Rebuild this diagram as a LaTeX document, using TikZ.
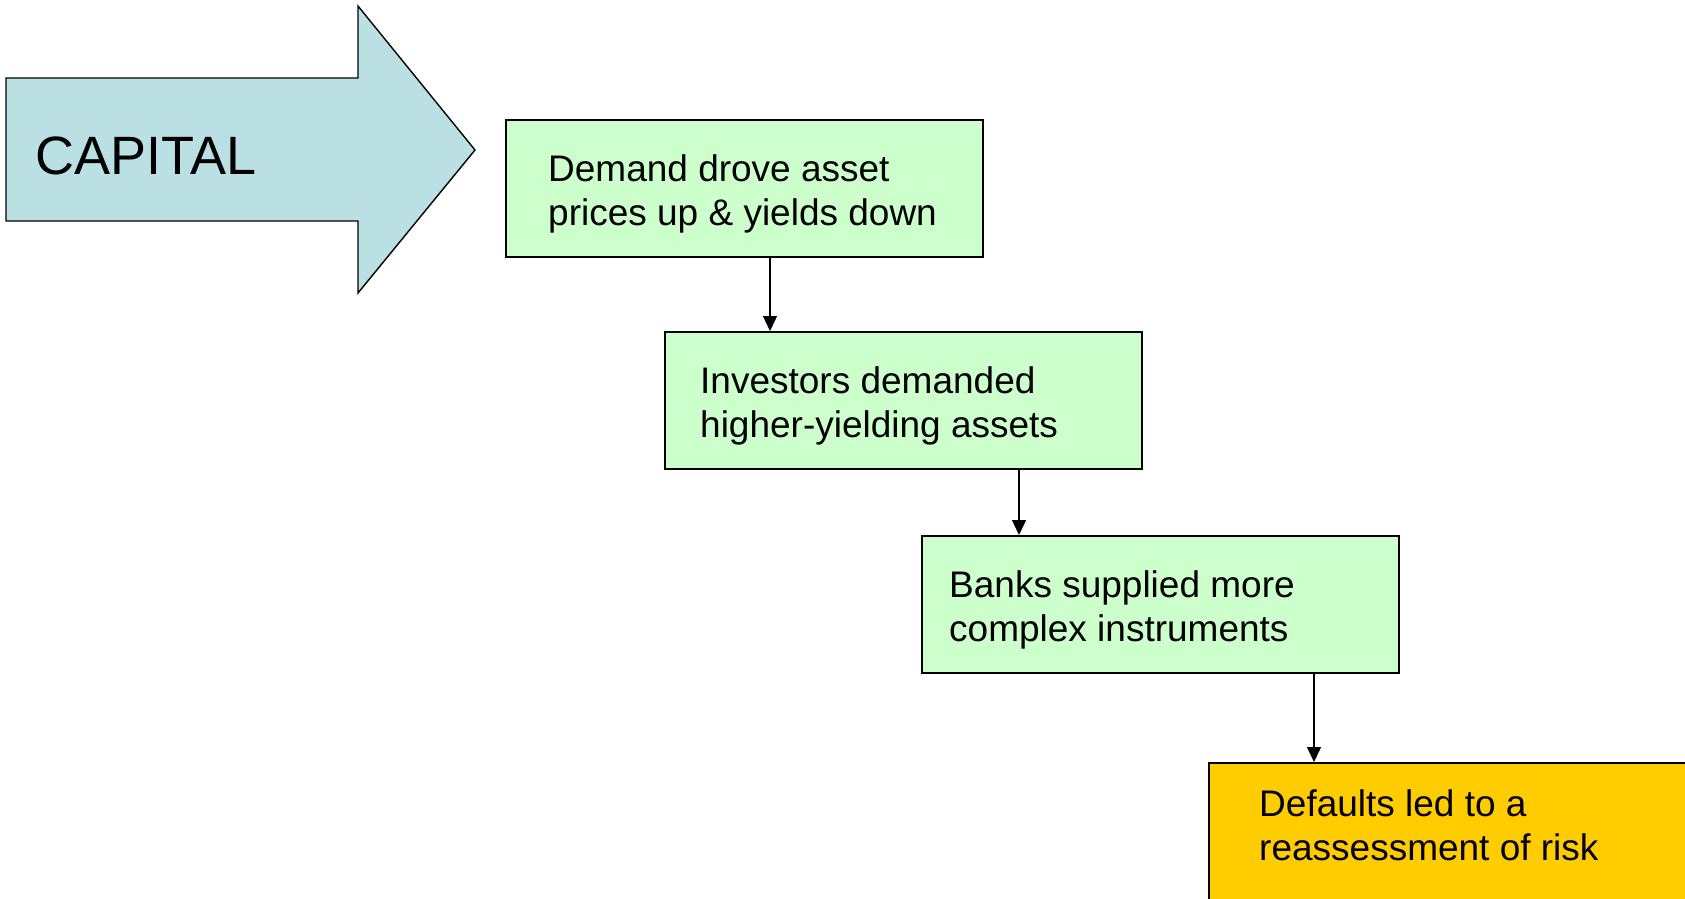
\documentclass[tikz,border=0pt]{standalone}
\usepackage{fontspec}
\setmainfont{Liberation Sans}
\usetikzlibrary{arrows.meta}

\definecolor{capitalblue}{HTML}{BBE0E3}
\definecolor{stagegreen}{HTML}{CCFFCC}
\definecolor{stagegold}{HTML}{FFCC00}

\tikzset{
  stagebox/.style={draw, line width=1.5pt, minimum width=477pt, minimum height=137pt, inner sep=0pt},
  stagetext/.style={align=left, inner sep=0pt, font=\fontsize{37pt}{44pt}\selectfont},
  flow/.style={-{Triangle[length=15pt,width=14pt]}, line width=1.4pt},
}

% box #1 with its top left corner at #2, text inset by #3 and raised by #4, fill #5, text #6
\NewDocumentCommand{\stage}{mmmmmm}{%
\node[stagebox, fill=#5, anchor=north west] (#1) at (#2) {};%
\node[stagetext, anchor=west] (#1text) at ([xshift=#3pt, yshift=#4pt]#1.west) {#6};%
}

\begin{document}
\begin{tikzpicture}[x=1pt, y=-1pt]
\useasboundingbox (0,0) rectangle (1685,898);

% Capital flowing in
\draw[line width=1.4pt, fill=capitalblue] (6,78) -- (358,78) -- (358,6) -- (475,150)
  -- (358,293) -- (358,221) -- (6,221) -- cycle;
\node[anchor=base west, inner sep=0pt, font=\fontsize{54pt}{60pt}\selectfont] (capital) at (35,174) {CAPITAL};

% Chain of stages
\stage{demand}{505,119}{43}{-6}{stagegreen}{Demand drove asset\\prices up \& yields down}
\stage{investors}{664,331}{36}{-6}{stagegreen}{Investors demanded\\higher-yielding assets}
\stage{banks}{921,535}{28}{-6}{stagegreen}{Banks supplied more\\complex instruments}
\stage{defaults}{1208,762}{51}{6}{stagegold}{Defaults led to a\\reassessment of risk}

% Links, each dropping onto the next box
\coordinate (intoinvestors) at ([xshift=106pt]investors.north west);
\coordinate (intobanks) at ([xshift=98pt]banks.north west);
\coordinate (intodefaults) at ([xshift=106pt]defaults.north west);
\draw[flow] (demand.south -| intoinvestors) -- (intoinvestors);
\draw[flow] (investors.south -| intobanks) -- (intobanks);
\draw[flow] (banks.south -| intodefaults) -- (intodefaults);
\end{tikzpicture}
\end{document}
